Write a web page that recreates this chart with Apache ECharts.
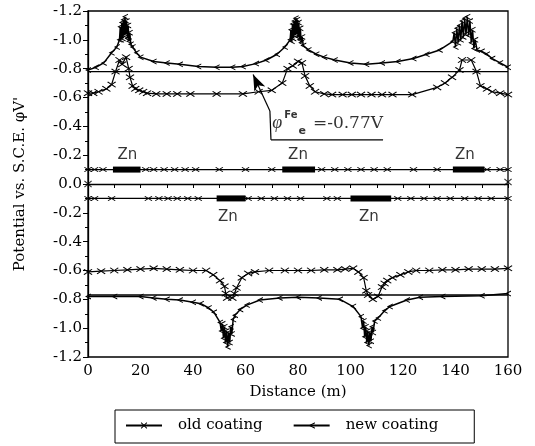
<!DOCTYPE html>
<html>
<head>
<meta charset="utf-8">
<script src="https://cdn.jsdelivr.net/npm/echarts@6/dist/echarts.min.js"></script>
<style>html,body{margin:0;padding:0;background:#fff;}#c{width:535px;height:446px;}</style>
</head>
<body>
<div id="c"></div>
<script>
// ---- data (potential in V vs S.C.E.; distance in m) ----
// upper panel
const topOld = [[0,-0.63],[2,-0.63],[4,-0.64],[7,-0.66],[9,-0.69],[10.5,-0.78],[12,-0.86],[13,-0.83],[14.5,-0.88],[15.5,-0.8],[16,-0.74],[17,-0.68],[18,-0.66],[19.5,-0.65],[21,-0.64],[22.5,-0.63],[26,-0.625],[30,-0.625],[34,-0.625],[39,-0.625],[49,-0.625],[59,-0.625],[65,-0.64],[70,-0.65],[74,-0.7],[76,-0.8],[78,-0.82],[80,-0.85],[81.5,-0.84],[82.7,-0.75],[84.5,-0.68],[86.5,-0.64],[90,-0.625],[93,-0.62],[97,-0.62],[100.5,-0.62],[104,-0.62],[108,-0.62],[112,-0.62],[116,-0.62],[123.5,-0.62],[133,-0.67],[136,-0.7],[138.7,-0.74],[141.5,-0.79],[142.5,-0.86],[146,-0.86],[148,-0.78],[149.5,-0.68],[152,-0.66],[154,-0.64],[157,-0.63],[160,-0.62]];
const topNew = [[0,-0.79],[3,-0.81],[6,-0.84],[9,-0.91],[11,-0.95],[12,-1.0],[12.3,-1.09],[12.6,-1.0],[12.9,-1.12],[13.2,-1.01],[13.5,-1.14],[13.8,-1.03],[14.1,-1.16],[14.4,-1.04],[14.7,-1.13],[15,-1.01],[15.3,-1.1],[15.6,-0.99],[15.9,-1.05],[16.3,-0.97],[17,-0.95],[18.5,-0.91],[20,-0.88],[25,-0.85],[30,-0.84],[35,-0.83],[42,-0.815],[49,-0.81],[55,-0.81],[59,-0.815],[64,-0.835],[68,-0.86],[72,-0.9],[75,-0.95],[77,-1.0],[77.3,-1.07],[77.6,-0.99],[77.9,-1.11],[78.2,-1.01],[78.5,-1.13],[78.8,-1.03],[79.1,-1.15],[79.4,-1.04],[79.7,-1.14],[80,-1.02],[80.3,-1.12],[80.6,-1.0],[80.9,-1.08],[81.2,-0.98],[81.6,-1.02],[82,-0.96],[84,-0.93],[87,-0.9],[90,-0.88],[94,-0.86],[100,-0.84],[106,-0.83],[112,-0.84],[118,-0.85],[124,-0.87],[129,-0.9],[134,-0.93],[139,-0.99],[139.5,-1.05],[140,-0.95],[140.5,-1.08],[141,-0.98],[141.5,-1.1],[142,-1.0],[142.5,-1.13],[143,-1.02],[143.5,-1.15],[144,-1.04],[144.5,-1.16],[145,-1.03],[145.5,-1.13],[146,-0.98],[146.5,-1.07],[147,-0.94],[147.5,-1.0],[148.2,-0.93],[150,-0.92],[152,-0.9],[154,-0.87],[157,-0.84],[160,-0.81]];
// lower panel
const bottomOld = [[0,-0.61],[5,-0.605],[10,-0.6],[15,-0.595],[20,-0.59],[25,-0.585],[30,-0.59],[35,-0.595],[40,-0.6],[45,-0.6],[47.7,-0.63],[50.3,-0.67],[52,-0.71],[52.5,-0.76],[53,-0.79],[55,-0.79],[55.8,-0.76],[56.6,-0.72],[58.6,-0.65],[61,-0.62],[63.6,-0.61],[69,-0.6],[75,-0.6],[80,-0.6],[85,-0.6],[90,-0.595],[95,-0.595],[98,-0.59],[101,-0.585],[103,-0.61],[105,-0.65],[106,-0.74],[106.7,-0.77],[108.5,-0.8],[110.5,-0.78],[112,-0.715],[113,-0.69],[114,-0.67],[116,-0.65],[119,-0.63],[122,-0.61],[125,-0.6],[130,-0.6],[135,-0.595],[140,-0.595],[145,-0.59],[150,-0.59],[155,-0.59],[160,-0.585]];
const bottomNew = [[0,-0.78],[10,-0.78],[20,-0.78],[25,-0.79],[30,-0.8],[35,-0.805],[40,-0.82],[43,-0.83],[46,-0.86],[48,-0.89],[50.3,-0.96],[50.8,-1.02],[51.2,-0.97],[51.6,-1.07],[52,-0.99],[52.4,-1.1],[52.8,-1.02],[53.2,-1.13],[53.6,-1.03],[54,-1.1],[54.4,-0.99],[54.8,-1.04],[55.3,-0.94],[56,-0.91],[58,-0.87],[60.5,-0.84],[65.5,-0.805],[73,-0.79],[80,-0.785],[88,-0.79],[96,-0.8],[101,-0.85],[104,-0.92],[104.6,-1.0],[105,-0.95],[105.4,-1.06],[105.8,-0.99],[106.2,-1.1],[106.6,-1.02],[107,-1.12],[107.4,-1.03],[107.8,-1.09],[108.2,-0.99],[108.6,-1.03],[109.2,-0.95],[110.5,-0.93],[113,-0.88],[115,-0.85],[121.5,-0.805],[126.5,-0.785],[135,-0.78],[150,-0.775],[160,-0.76]];
// Zn anode rows
const znLevel = -0.1;
const znTopMarks = [0,2.5,5.7,22,25,29,33,37,41,50,60,70,89,94,99,104,109,114,124,133,152,157,160];
const znBottomMarks = [0,2.5,9,23,27,30.5,34,38,42,61,66,71,76,81,91,95,118,123,128,133,138,143.5,148.6,153.6,160];
const znTopSegments = [[9.5,20],[74,86.5],[139,151]];
const znBottomSegments = [[49,60],[100,115.5]];
const znTopLabels = [15,80,143.6];
const znBottomLabels = [53.3,107];
const zeroMarks = [[0,0.0],[160,-0.014]];
// iron equilibrium potential lines
const feTop = -0.78;
const feBottom = -0.77;
// axis tick labels (top to bottom)
const yTickLabels = ['-1.2','-1.0','-0.8','-0.6','-0.4','-0.2','0.0','-0.2','-0.4','-0.6','-0.8','-1.0','-1.2'];
const legendNames = ['old coating','new coating'];

// ---- chart ----
const FONT = 'DejaVu Serif';
const up = p => -p;   // upper panel drawn inverted
const dn = p => p;
const crossSym = 'path://M0,1L1,0L5,4L9,0L10,1L6,5L10,9L9,10L5,6L1,10L0,9L4,5Z';
const tickSym = 'path://M10,0L0,5L10,10L10,8.2L3.5,5L10,1.8Z';
const black = '#000';

function curve(name, arr, f, sym, size, w) {
  return {
    type: 'line', name: name, data: arr.map(d => [d[0], f(d[1])]),
    symbol: sym, symbolSize: size, showAllSymbol: true,
    lineStyle: {color: black, width: w}, itemStyle: {color: black},
    silent: true, z: 3, animation: false
  };
}
function plain(data, w, sym, size) {
  return {
    type: 'line', data: data, symbol: sym || 'none', symbolSize: size || 0,
    showAllSymbol: true, lineStyle: {color: black, width: w}, itemStyle: {color: black},
    silent: true, animation: false, z: 2
  };
}

const series = [
  curve('old coating', topOld, up, crossSym, [9,6], 1.2),
  curve('old coating', bottomOld, dn, crossSym, [9,6], 1.2),
  curve('new coating', topNew, up, tickSym, [6,6], 1.5),
  curve('new coating', bottomNew, dn, tickSym, [6,6], 1.5),
  plain(znTopMarks.map(x => [x, up(znLevel)]), 1.3, crossSym, [8,5]),
  plain(znBottomMarks.map(x => [x, dn(znLevel)]), 1.3, crossSym, [8,5]),
  plain([[0, up(feTop)], [160, up(feTop)]], 1.3),
  plain([[0, dn(feBottom)], [160, dn(feBottom)]], 1.3)
];
znTopSegments.forEach(s => series.push(plain([[s[0], up(znLevel)], [s[1], up(znLevel)]], 6)));
znBottomSegments.forEach(s => series.push(plain([[s[0], dn(znLevel)], [s[1], dn(znLevel)]], 6)));
series.push({
  type: 'scatter', data: zeroMarks.map(d => [d[0], up(d[1])]), symbol: crossSym, symbolSize: [8,7],
  itemStyle: {color: black}, silent: true, animation: false
});
series.push({
  type: 'scatter', symbolSize: 0, silent: true, animation: false,
  data: znTopLabels.map(x => [x, up(-0.2)]).concat(znBottomLabels.map(x => [x, dn(-0.23)])),
  label: {show: true, position: 'inside', formatter: 'Zn', color: black, fontFamily: 'DejaVu Sans', fontSize: 15}
});
// annotation: phi^Fe_e = -0.77V with leader line & arrow
series.push({
  type: 'line', data: [[69.7, 0.306], [112.4, 0.306]], symbol: 'none',
  lineStyle: {color: black, width: 1.2}, silent: true, animation: false,
  markLine: {
    silent: true, animation: false, symbol: ['none', 'arrow'], symbolSize: [9, 16],
    lineStyle: {color: black, width: 1.2, type: 'solid'}, label: {show: false},
    data: [
      [{coord: [69.7, 0.306]}, {coord: [69.3, 0.507], symbol: 'none'}],
      [{coord: [69.3, 0.507], symbol: 'none'}, {coord: [62.9, 0.76]}]
    ]
  }
});
series.push({
  type: 'scatter', symbolSize: 0, silent: true, animation: false,
  data: [[70.2, 0.42]],
  label: {
    show: true, position: 'right', distance: 0, color: black,
    formatter: '{p|φ}{sup|Fe}{sub|e}{n|=-0.77V}',
    rich: {
      p: {fontFamily: 'Liberation Serif', fontStyle: 'italic', fontSize: 18, lineHeight: 26, verticalAlign: 'middle', color: black},
      sup: {fontFamily: 'DejaVu Sans', fontWeight: 'bold', fontSize: 10, lineHeight: 26, verticalAlign: 'top', padding: [0,0,0,2], color: black},
      sub: {fontFamily: 'DejaVu Sans', fontWeight: 'bold', fontSize: 11, lineHeight: 26, verticalAlign: 'bottom', padding: [0,0,0,1], color: black},
      n: {fontFamily: FONT, fontSize: 17, lineHeight: 26, verticalAlign: 'middle', padding: [0,0,0,7], color: black}
    }
  }
});

const chart = echarts.init(document.getElementById('c'));
chart.setOption({
  animation: false,
  backgroundColor: '#fff',
  grid: {left: 88, right: 27, top: 11, bottom: 89, show: true, borderColor: black, borderWidth: 1.3, backgroundColor: 'transparent'},
  legend: {
    data: legendNames, left: 115, top: 410,
    borderColor: black, borderWidth: 1, borderRadius: 0, padding: [8, 36, 10, 10],
    itemWidth: 36, itemHeight: 8, itemGap: 30,
    textStyle: {fontFamily: FONT, fontSize: 15, color: black, padding: [0, 0, 0, 11]}
  },
  xAxis: {
    type: 'value', min: 0, max: 160, interval: 20,
    name: 'Distance (m)', nameLocation: 'middle', nameGap: 28,
    nameTextStyle: {fontFamily: FONT, fontSize: 15, color: black},
    axisLine: {show: true, lineStyle: {color: black, width: 1.3}},
    axisTick: {show: true, inside: false, length: 4, lineStyle: {color: black}},
    minorTick: {show: true, splitNumber: 2, length: 4, lineStyle: {color: black}},
    axisLabel: {fontFamily: FONT, fontSize: 15, color: black, margin: 7},
    splitLine: {show: false}
  },
  yAxis: {
    type: 'value', min: -1.2, max: 1.2, interval: 0.2,
    name: "Potential vs. S.C.E. φV'", nameLocation: 'middle', nameGap: 60,
    nameTextStyle: {fontFamily: FONT, fontSize: 15, color: black},
    axisLine: {show: true, lineStyle: {color: black, width: 1.3}},
    axisTick: {show: true, inside: false, length: 5, lineStyle: {color: black}},
    minorTick: {show: true, splitNumber: 2, length: 3, lineStyle: {color: black}},
    axisLabel: {
      fontFamily: FONT, fontSize: 15, color: black, margin: 6,
      formatter: v => yTickLabels[Math.round((1.2 - v) / 0.2)] || ''
    },
    splitLine: {show: false}
  },
  series: series
});
</script>
</body>
</html>
